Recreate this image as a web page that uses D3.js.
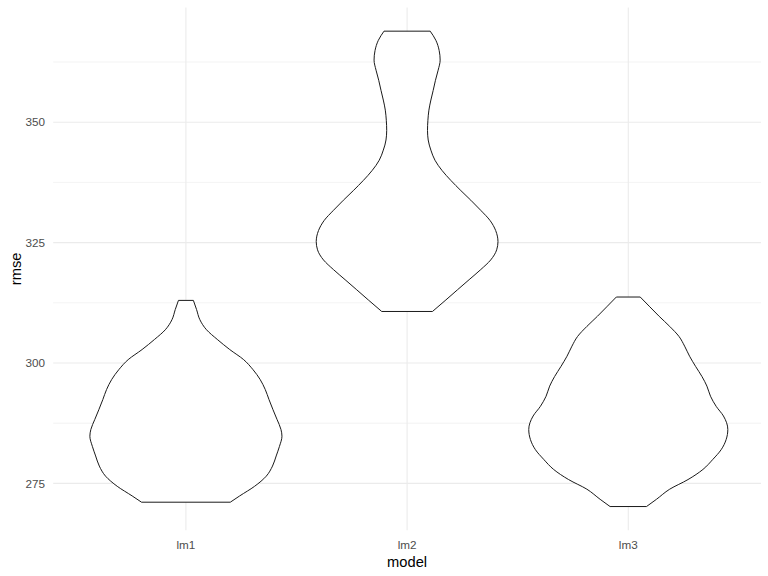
<!DOCTYPE html>
<html>
<head>
<meta charset="utf-8">
<script src="https://cdn.jsdelivr.net/npm/d3@7"></script>
<style>
  html, body { margin: 0; padding: 0; background: #ffffff; }
  svg { display: block; }
</style>
</head>
<body>
<svg id="chart" width="768" height="576"></svg>
<script>
// ---- data ----
const categories = ["lm1", "lm2", "lm3"];
const yTicks = [275, 300, 325, 350];
const yMinorTicks = [262.5, 287.5, 312.5, 337.5, 362.5];
const xTitle = "model";
const yTitle = "rmse";

// violin profiles: rmse value and scaled density (1 = widest violin)
const lm1Rmse = [271.1, 272.4, 274.4, 276.5, 278.6, 280.7, 282.7, 284.8, 286.2, 288.3, 290.3, 292.4, 294.5, 296.6, 298.6, 300.7, 302.8, 304.9, 306.9, 309.0, 311.1, 313.0];
const lm1Dens = [0.446, 0.54, 0.69, 0.807, 0.87, 0.907, 0.94, 0.965, 0.955, 0.915, 0.875, 0.835, 0.797, 0.745, 0.675, 0.58, 0.44, 0.315, 0.207, 0.14, 0.107, 0.075];

const lm2Rmse = [310.7, 313.1, 315.2, 317.3, 319.4, 321.4, 323.5, 325.2, 327.5, 329.6, 331.7, 333.8, 335.8, 337.9, 340.0, 342.1, 344.2, 346.3, 348.3, 350.4, 352.5, 354.6, 356.6, 358.7, 360.8, 362.9, 364.9, 367.0, 368.9];
const lm2Dens = [0.255, 0.39, 0.506, 0.623, 0.74, 0.84, 0.9, 0.913, 0.89, 0.833, 0.74, 0.64, 0.54, 0.44, 0.35, 0.28, 0.239, 0.212, 0.205, 0.209, 0.219, 0.239, 0.262, 0.285, 0.312, 0.332, 0.322, 0.289, 0.232];

const lm3Rmse = [270.2, 271.7, 273.8, 275.8, 277.9, 280.0, 282.0, 284.1, 286.2, 289.0, 291.0, 293.1, 295.2, 297.2, 299.3, 301.4, 303.5, 305.5, 307.6, 309.7, 311.8, 313.7];
const lm3Dens = [0.183, 0.283, 0.416, 0.6, 0.75, 0.85, 0.933, 0.983, 1.0, 0.956, 0.883, 0.826, 0.79, 0.74, 0.676, 0.616, 0.566, 0.51, 0.416, 0.31, 0.21, 0.12];

const violins = [
  { model: "lm1", rmse: lm1Rmse, dens: lm1Dens },
  { model: "lm2", rmse: lm2Rmse, dens: lm2Dens },
  { model: "lm3", rmse: lm3Rmse, dens: lm3Dens }
];

// ---- layout ----
const svg = d3.select("#chart");
const panel = { left: 53.2, right: 761, top: 7.4, bottom: 530.3 };

const allVals = [].concat(lm1Rmse, lm2Rmse, lm3Rmse);
const yMin = d3.min(allVals), yMax = d3.max(allVals);
const pad = (yMax - yMin) * 0.05;

const y = d3.scaleLinear().domain([yMin - pad, yMax + pad]).range([panel.bottom, panel.top]);
const x = d3.scalePoint().domain(categories).range([panel.left, panel.right]).padding(0.6 * 2 / 2 + 0.1);
// explicit: discrete expansion of 0.6 on each side
x.range([panel.left, panel.right]);
const step = (panel.right - panel.left) / (categories.length - 1 + 1.2);
const xPos = m => panel.left + step * (0.6 + categories.indexOf(m));
const w = d3.scaleLinear().domain([0, 1]).range([0, step * 0.45]);

// ---- grid ----
const grid = svg.append("g");
grid.selectAll("line.minor").data(yMinorTicks.filter(t => y(t) >= panel.top && y(t) <= panel.bottom))
  .enter().append("line")
  .attr("x1", panel.left).attr("x2", panel.right)
  .attr("y1", d => y(d)).attr("y2", d => y(d))
  .attr("stroke", "#ebebeb").attr("stroke-width", 0.6);
grid.selectAll("line.majorY").data(yTicks).enter().append("line")
  .attr("x1", panel.left).attr("x2", panel.right)
  .attr("y1", d => y(d)).attr("y2", d => y(d))
  .attr("stroke", "#ebebeb").attr("stroke-width", 1.1);
grid.selectAll("line.majorX").data(categories).enter().append("line")
  .attr("x1", d => xPos(d)).attr("x2", d => xPos(d))
  .attr("y1", panel.top).attr("y2", panel.bottom)
  .attr("stroke", "#ebebeb").attr("stroke-width", 1.1);

// ---- violins ----
violins.forEach(v => {
  const pts = v.rmse.map((r, i) => ({ r, d: v.dens[i] }));
  const cx = xPos(v.model);
  const area = d3.area()
    .y(p => y(p.r))
    .x0(p => cx - w(p.d))
    .x1(p => cx + w(p.d))
    .curve(d3.curveMonotoneY);
  svg.append("path")
    .attr("d", area(pts))
    .attr("fill", "#ffffff")
    .attr("stroke", "#1a1a1a")
    .attr("stroke-width", 1)
    .attr("stroke-linejoin", "round");
});

// ---- axes text ----
const font = "'Liberation Sans', Arial, sans-serif";
svg.selectAll("text.ytick").data(yTicks).enter().append("text")
  .attr("x", 45).attr("y", d => y(d))
  .attr("dy", "0.35em")
  .attr("text-anchor", "end")
  .attr("font-family", font).attr("font-size", 11.7)
  .attr("fill", "#4d4d4d")
  .text(d => d);

svg.selectAll("text.xtick").data(categories).enter().append("text")
  .attr("x", d => xPos(d)).attr("y", 545)
  .attr("dy", "0.35em")
  .attr("text-anchor", "middle")
  .attr("font-family", font).attr("font-size", 11.7)
  .attr("fill", "#4d4d4d")
  .text(d => d);

svg.append("text")
  .attr("x", (panel.left + panel.right) / 2).attr("y", 562)
  .attr("dy", "0.35em")
  .attr("text-anchor", "middle")
  .attr("font-family", font).attr("font-size", 14.7)
  .attr("fill", "#000000")
  .text(xTitle);

svg.append("text")
  .attr("transform", `translate(16,${(panel.top + panel.bottom) / 2}) rotate(-90)`)
  .attr("dy", "0.35em")
  .attr("text-anchor", "middle")
  .attr("font-family", font).attr("font-size", 14.7)
  .attr("fill", "#000000")
  .text(yTitle);
</script>
</body>
</html>
